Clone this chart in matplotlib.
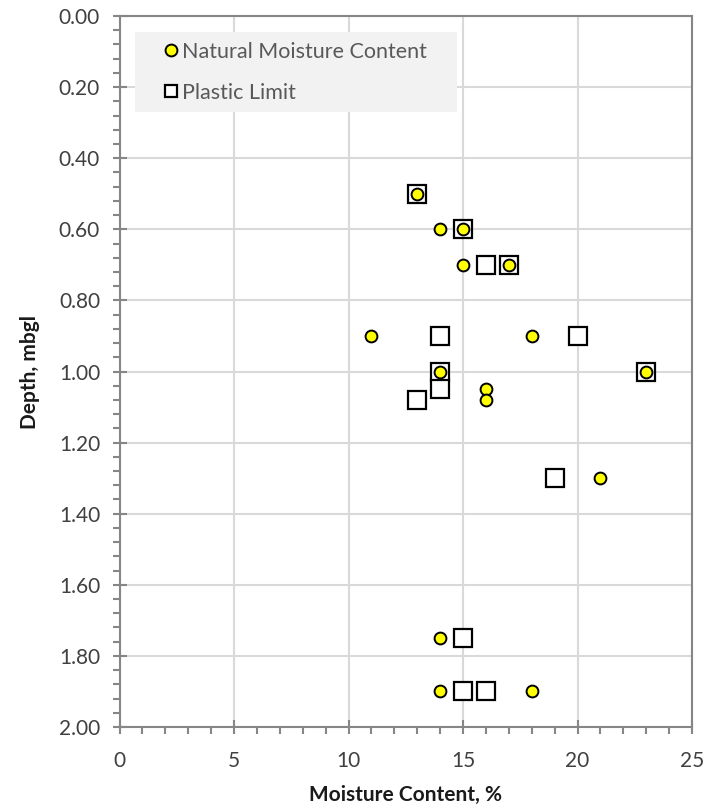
import matplotlib
matplotlib.use("Agg")
import matplotlib.pyplot as plt
from matplotlib.ticker import MultipleLocator, FormatStrFormatter

# Natural Moisture Content (circles)
nmc_x = [13, 14, 15, 15, 17, 11, 18, 14, 23, 16, 16, 21, 14, 14, 18]
nmc_depth = [0.50, 0.60, 0.60, 0.70, 0.70, 0.90, 0.90, 1.00, 1.00, 1.05, 1.08, 1.30, 1.75, 1.90, 1.90]

# Plastic Limit (squares)
pl_x = [13, 15, 16, 17, 14, 20, 14, 23, 14, 13, 19, 15, 15, 16]
pl_depth = [0.50, 0.60, 0.70, 0.70, 0.90, 0.90, 1.00, 1.00, 1.05, 1.08, 1.30, 1.75, 1.90, 1.90]

plt.rcParams['font.family'] = ['Lato', 'DejaVu Sans']

fig = plt.figure(figsize=(7.06, 8.05), dpi=100)
ax = fig.add_axes([0.1693, 0.0969, 0.8109, 0.8832])

sq, = ax.plot(pl_x, pl_depth, linestyle='none', marker='s', markersize=13,
              markerfacecolor='white', markeredgecolor='black', markeredgewidth=1.6,
              zorder=3, label='Plastic Limit')
ci, = ax.plot(nmc_x, nmc_depth, linestyle='none', marker='o', markersize=8.5,
              markerfacecolor='#ffff00', markeredgecolor='black', markeredgewidth=1.4,
              zorder=4, label='Natural Moisture Content')

ax.set_xlim(0, 25)
ax.set_ylim(2.0, 0.0)
ax.xaxis.set_major_locator(MultipleLocator(5))
ax.xaxis.set_minor_locator(MultipleLocator(1))
ax.yaxis.set_major_locator(MultipleLocator(0.2))
ax.yaxis.set_minor_locator(MultipleLocator(0.04))
ax.yaxis.set_major_formatter(FormatStrFormatter('%.2f'))

ax.grid(True, which='major', color='#d9d9d9', linewidth=1.5, zorder=0)
ax.set_axisbelow(True)

for s in ax.spines.values():
    s.set_color('#868686')
    s.set_linewidth(1.5)

ax.tick_params(axis='both', which='major', direction='inout', length=10, width=1.5,
               color='#868686', labelsize=15, labelcolor='#404040')
ax.tick_params(axis='both', which='minor', direction='out', length=5, width=1.5,
               color='#868686')
ax.tick_params(axis='x', which='major', pad=12)
ax.tick_params(axis='y', which='major', pad=9)

ax.set_xlabel('Moisture Content, %', fontsize=15, fontweight='bold', color='#1a1a1a', labelpad=10)
ax.set_ylabel('Depth, mbgl', fontsize=15, fontweight='bold', color='#1a1a1a', labelpad=13.5)

leg = ax.legend(handles=[ci, sq], loc='upper left',
                bbox_to_anchor=(0.027, 0.9775 - 0.2, 0.5625, 0.2), mode='expand',
                frameon=True, facecolor='#f2f2f2', edgecolor='none', framealpha=1,
                fancybox=False, fontsize=15.5, labelcolor='#595959',
                handlelength=2.4, handletextpad=-0.68,
                borderpad=0.45, labelspacing=0.98, borderaxespad=0)
leg.get_frame().set_linewidth(0)
leg.legend_handles[0].set_markersize(8.5)
leg.legend_handles[1].set_markersize(8)
leg.legend_handles[1].set_markeredgewidth(1.6)

fig.savefig('out.png', dpi=100)
